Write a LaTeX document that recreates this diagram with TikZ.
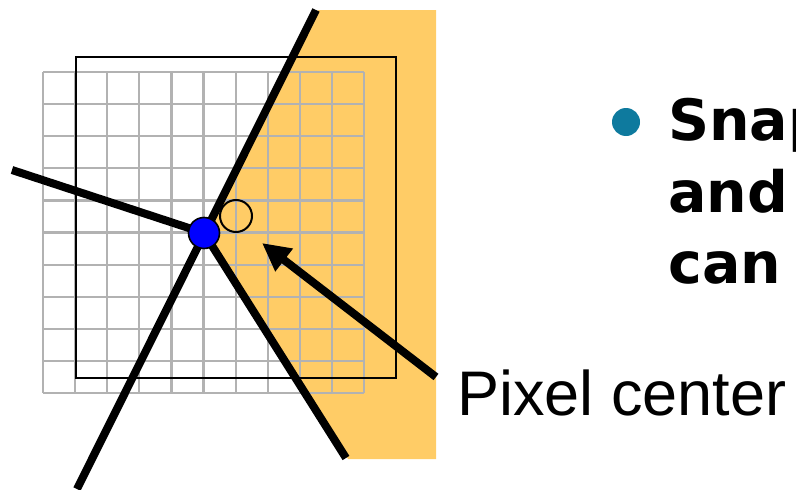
\documentclass[tikz,border=0pt]{standalone}
\usepackage{fontspec}
\setmainfont{Liberation Sans}
\newfontfamily\bulletfont{DejaVu Sans}
\usetikzlibrary{arrows.meta, positioning}
\definecolor{fillorange}{RGB}{255,204,102}
\definecolor{gridgray}{RGB}{178,178,178}
\definecolor{bulletteal}{RGB}{14,122,158}
\tikzset{
  edge/.style={line width=8pt},
  pointer/.style={line width=8pt,-{Triangle[length=28pt,width=27pt]}},
  gridline/.style={draw=gridgray,line width=2.2pt},
  frame/.style={draw,line width=2pt},
  vertex/.style={circle,draw,line width=1.6pt,fill=blue,minimum size=31pt,inner sep=0pt},
  sample/.style={circle,draw,line width=2pt,minimum size=32pt,inner sep=0pt},
  dot/.style={circle,fill=bulletteal,minimum size=28pt,inner sep=0pt},
  bullettext/.style={font=\bulletfont\bfseries\fontsize{57}{72}\selectfont,anchor=base west,inner sep=0pt},
  tag/.style={font=\fontsize{63}{72}\selectfont,anchor=base west,inner sep=0pt}
}

\begin{document}
\begin{tikzpicture}[x=1pt,y=-1pt]
\useasboundingbox (0,0) rectangle (796,490);
\coordinate (v) at (204,233);
\coordinate (top) at (316,10);
\coordinate (low) at (77,489);
\coordinate (west) at (12,170);
\coordinate (south) at (346,458);
\coordinate (ptail) at (436,377);
\coordinate (ptip) at (262,243);
\fill[fillorange] (318,10) -- (436,10) -- (436,459) -- (348,459) -- (v) -- cycle;
\foreach \i in {0,...,10} {
  \draw[gridline] ({43+32.1*\i},72) -- ({43+32.1*\i},393);
  \draw[gridline] (43,{72+32.1*\i}) -- (364,{72+32.1*\i});
}
\draw[frame] (76,57) rectangle (396,378);
\draw[edge] (top) -- (low);
\draw[edge] (west) -- (v);
\draw[edge] (v) -- (south);
\node[sample] (center) at (236,216) {};
\node[vertex] (vtx) at (v) {};
\draw[pointer] (ptail) -- (ptip);
\node[tag] (pixlabel) at (457,415) {Pixel center};
\node[dot] (bullet) at (626,122) {};
\node[bullettext] (snap) at (668,140) {Snap};
\node[bullettext] (and) at (668,212) {and};
\node[bullettext] (can) at (668,283) {can};
\end{tikzpicture}
\end{document}
